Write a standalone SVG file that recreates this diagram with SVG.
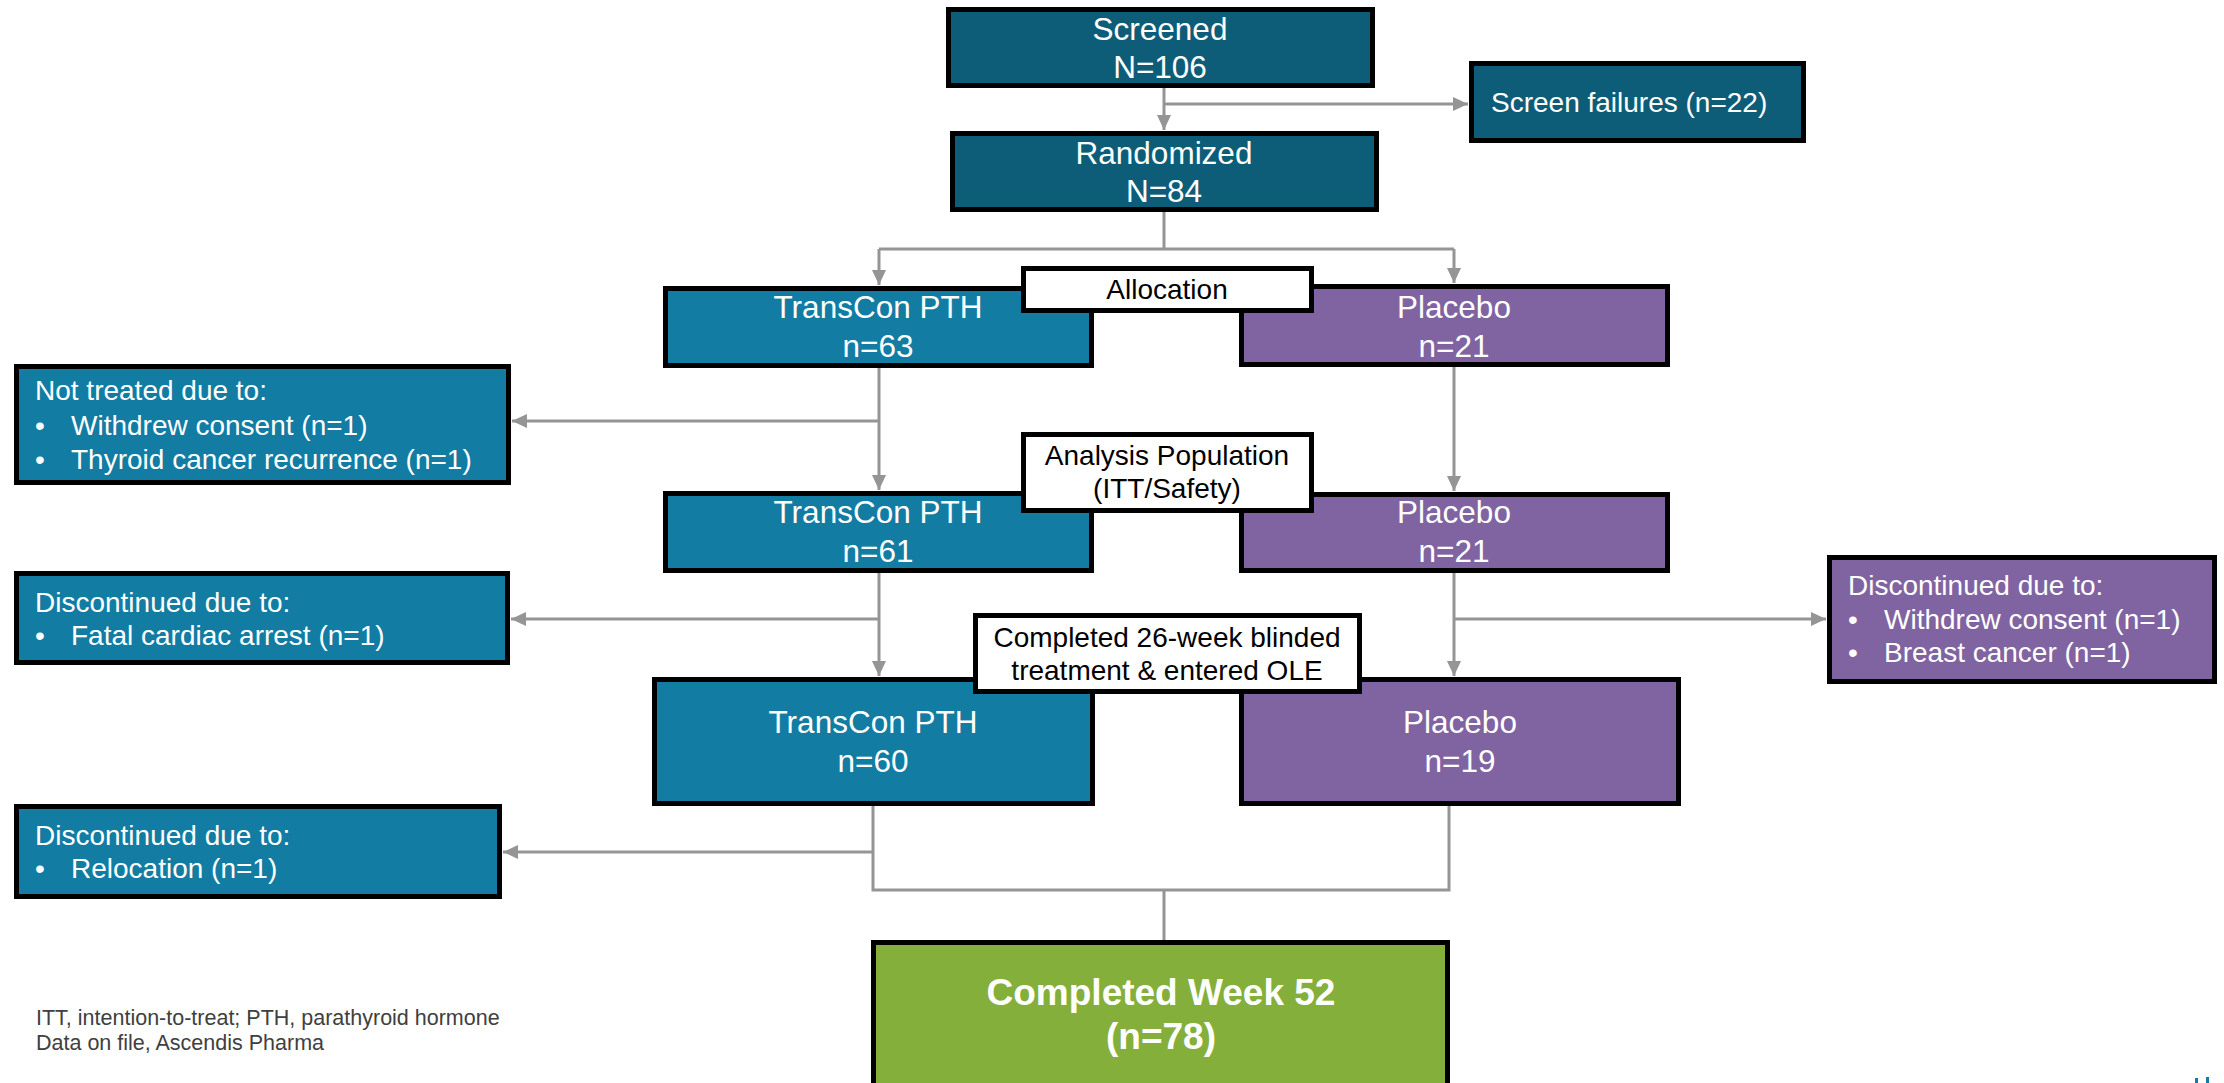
<svg xmlns="http://www.w3.org/2000/svg" width="2224" height="1083" viewBox="0 0 2224 1083">
<style>
.box{stroke:#000;stroke-width:5}
.dark{fill:#0E5D78}
.teal{fill:#127CA2}
.purp{fill:#8064A1}
.green{fill:#85AF3B}
.lbl{fill:#fff;stroke:#000;stroke-width:5}
.t{font-family:"Liberation Sans",Arial,sans-serif;fill:#fff}
.c{text-anchor:middle;font-size:31.5px}
.s{font-size:28px}
.k{font-family:"Liberation Sans",Arial,sans-serif;fill:#000;font-size:28px;text-anchor:middle}
.ln{fill:none;stroke:#959595;stroke-width:3}
.fn{font-family:"Liberation Sans",Arial,sans-serif;fill:#404040;font-size:21.5px}
</style>
<defs>
<marker id="ah" markerUnits="userSpaceOnUse" markerWidth="16" markerHeight="14" refX="15" refY="7" orient="auto">
<path d="M0,0 L15,7 L0,14 Z" fill="#959595"/>
</marker>
</defs>
<rect width="2224" height="1083" fill="#fff"/>

<g id="connectors">
<line class="ln" x1="1164" y1="88" x2="1164" y2="130" marker-end="url(#ah)"/>
<line class="ln" x1="1164" y1="104" x2="1468" y2="104" marker-end="url(#ah)"/>
<polyline class="ln" points="1164,212 1164,249"/>
<polyline class="ln" points="879,249 1454,249"/>
<line class="ln" x1="879" y1="249" x2="879" y2="285" marker-end="url(#ah)"/>
<line class="ln" x1="1454" y1="249" x2="1454" y2="283" marker-end="url(#ah)"/>
<line class="ln" x1="879" y1="368" x2="879" y2="490" marker-end="url(#ah)"/>
<line class="ln" x1="879" y1="421" x2="512" y2="421" marker-end="url(#ah)"/>
<line class="ln" x1="1454" y1="367" x2="1454" y2="491" marker-end="url(#ah)"/>
<line class="ln" x1="879" y1="573" x2="879" y2="676" marker-end="url(#ah)"/>
<line class="ln" x1="879" y1="619" x2="511" y2="619" marker-end="url(#ah)"/>
<line class="ln" x1="1454" y1="573" x2="1454" y2="676" marker-end="url(#ah)"/>
<line class="ln" x1="1454" y1="619" x2="1826" y2="619" marker-end="url(#ah)"/>
<polyline class="ln" points="873,806 873,890 1449,890 1449,806"/>
<line class="ln" x1="873" y1="852" x2="503" y2="852" marker-end="url(#ah)"/>
<polyline class="ln" points="1164,890 1164,940"/>
</g>

<g id="screened">
<rect class="box dark" x="948.5" y="9.5" width="424" height="76"/>
<text class="t c" x="1160" y="40">Screened</text>
<text class="t c" x="1160" y="78">N=106</text>
</g>
<g id="screen-failures">
<rect class="box dark" x="1471.5" y="63.5" width="332" height="77"/>
<text class="t s" x="1491" y="112">Screen failures (n=22)</text>
</g>
<g id="randomized">
<rect class="box dark" x="952.5" y="133.5" width="424" height="76"/>
<text class="t c" x="1164" y="164">Randomized</text>
<text class="t c" x="1164" y="202">N=84</text>
</g>

<g id="transcon-1">
<rect class="box teal" x="665.5" y="288.5" width="426" height="77"/>
<text class="t c" x="878" y="318">TransCon PTH</text>
<text class="t c" x="878" y="357">n=63</text>
</g>
<g id="placebo-1">
<rect class="box purp" x="1241.5" y="286.5" width="426" height="78"/>
<text class="t c" x="1454" y="318">Placebo</text>
<text class="t c" x="1454" y="357">n=21</text>
</g>
<g id="allocation">
<rect class="lbl" x="1023.5" y="268.5" width="288" height="42"/>
<text class="k" x="1167" y="299">Allocation</text>
</g>

<g id="not-treated">
<rect class="box teal" x="16.5" y="366.5" width="492" height="116"/>
<text class="t s" x="35" y="400">Not treated due to:</text>
<text class="t s" x="35" y="435">•</text><text class="t s" x="71" y="435">Withdrew consent (n=1)</text>
<text class="t s" x="35" y="469">•</text><text class="t s" x="71" y="469">Thyroid cancer recurrence (n=1)</text>
</g>

<g id="transcon-2">
<rect class="box teal" x="665.5" y="493.5" width="426" height="77"/>
<text class="t c" x="878" y="523">TransCon PTH</text>
<text class="t c" x="878" y="562">n=61</text>
</g>
<g id="placebo-2">
<rect class="box purp" x="1241.5" y="494.5" width="426" height="76"/>
<text class="t c" x="1454" y="523">Placebo</text>
<text class="t c" x="1454" y="562">n=21</text>
</g>
<g id="analysis">
<rect class="lbl" x="1023.5" y="434.5" width="288" height="76"/>
<text class="k" x="1167" y="465">Analysis Population</text>
<text class="k" x="1167" y="498">(ITT/Safety)</text>
</g>

<g id="discontinued-1">
<rect class="box teal" x="16.5" y="573.5" width="491" height="89"/>
<text class="t s" x="35" y="612">Discontinued due to:</text>
<text class="t s" x="35" y="645">•</text><text class="t s" x="71" y="645">Fatal cardiac arrest (n=1)</text>
</g>

<g id="discontinued-placebo">
<rect class="box purp" x="1829.5" y="557.5" width="385" height="124"/>
<text class="t s" x="1848" y="595">Discontinued due to:</text>
<text class="t s" x="1848" y="629">•</text><text class="t s" x="1884" y="629">Withdrew consent (n=1)</text>
<text class="t s" x="1848" y="662">•</text><text class="t s" x="1884" y="662">Breast cancer (n=1)</text>
</g>

<g id="transcon-3">
<rect class="box teal" x="654.5" y="679.5" width="438" height="124"/>
<text class="t c" x="873" y="733">TransCon PTH</text>
<text class="t c" x="873" y="772">n=60</text>
</g>
<g id="placebo-3">
<rect class="box purp" x="1241.5" y="679.5" width="437" height="124"/>
<text class="t c" x="1460" y="733">Placebo</text>
<text class="t c" x="1460" y="772">n=19</text>
</g>
<g id="completed-26">
<rect class="lbl" x="975.5" y="615.5" width="384" height="76"/>
<text class="k" x="1167" y="647">Completed 26-week blinded</text>
<text class="k" x="1167" y="680">treatment &amp; entered OLE</text>
</g>

<g id="relocation">
<rect class="box teal" x="16.5" y="806.5" width="483" height="90"/>
<text class="t s" x="35" y="845">Discontinued due to:</text>
<text class="t s" x="35" y="878">•</text><text class="t s" x="71" y="878">Relocation (n=1)</text>
</g>

<g id="completed-52">
<rect class="box green" x="873.5" y="942.5" width="574" height="150"/>
<text class="t" x="1161" y="1005" text-anchor="middle" font-size="37" font-weight="bold">Completed Week 52</text>
<text class="t" x="1161" y="1049" text-anchor="middle" font-size="37" font-weight="bold">(n=78)</text>
</g>

<g id="footnote">
<text class="fn" x="36" y="1025">ITT, intention-to-treat; PTH, parathyroid hormone</text>
<text class="fn" x="36" y="1050">Data on file, Ascendis Pharma</text>
</g>
<rect x="2195" y="1078" width="3" height="5" fill="#127CA2"/>
<rect x="2206" y="1077" width="3" height="6" fill="#127CA2"/>
</svg>
